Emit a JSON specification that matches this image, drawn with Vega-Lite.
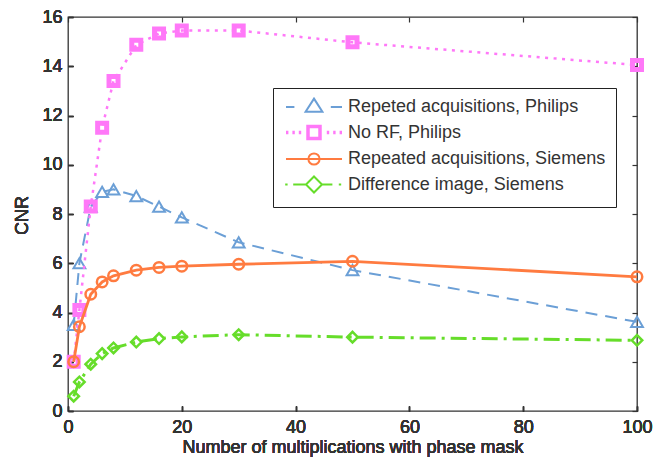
{
  "$schema": "https://vega.github.io/schema/vega-lite/v6.json",
  "width": 569,
  "height": 394,
  "autosize": {"type": "none"},
  "padding": {"left": 68, "top": 17, "right": 16, "bottom": 51},
  "background": "white",
  "config": {
    "view": {"stroke": "#333333", "strokeWidth": 1.3},
    "font": "Liberation Sans",
    "axis": {"grid": false, "domain": false, "tickColor": "#333333", "tickWidth": 1.2, "labelColor": "#333333", "titleColor": "#333333", "labelFont": "Liberation Sans", "titleFont": "Liberation Sans", "labelFontSize": 18, "titleFontSize": 18, "titleFontWeight": "normal", "labelFlush": false, "labelOverlap": false}
  },
  "data": {"values": [
    {"series": "Repeted acquisitions, Philips", "x": 1, "y": 3.5},
    {"series": "Repeted acquisitions, Philips", "x": 2, "y": 6.0},
    {"series": "Repeted acquisitions, Philips", "x": 4, "y": 8.3},
    {"series": "Repeted acquisitions, Philips", "x": 6, "y": 8.9},
    {"series": "Repeted acquisitions, Philips", "x": 8, "y": 9.0},
    {"series": "Repeted acquisitions, Philips", "x": 12, "y": 8.73},
    {"series": "Repeted acquisitions, Philips", "x": 16, "y": 8.3},
    {"series": "Repeted acquisitions, Philips", "x": 20, "y": 7.86},
    {"series": "Repeted acquisitions, Philips", "x": 30, "y": 6.85},
    {"series": "Repeted acquisitions, Philips", "x": 50, "y": 5.72},
    {"series": "Repeted acquisitions, Philips", "x": 100, "y": 3.62},
    {"series": "No RF, Philips", "x": 1, "y": 2.0},
    {"series": "No RF, Philips", "x": 2, "y": 4.1},
    {"series": "No RF, Philips", "x": 4, "y": 8.3},
    {"series": "No RF, Philips", "x": 6, "y": 11.5},
    {"series": "No RF, Philips", "x": 8, "y": 13.4},
    {"series": "No RF, Philips", "x": 12, "y": 14.87},
    {"series": "No RF, Philips", "x": 16, "y": 15.33},
    {"series": "No RF, Philips", "x": 20, "y": 15.45},
    {"series": "No RF, Philips", "x": 30, "y": 15.45},
    {"series": "No RF, Philips", "x": 50, "y": 14.97},
    {"series": "No RF, Philips", "x": 100, "y": 14.05},
    {"series": "Repeated acquisitions, Siemens", "x": 1, "y": 2.0},
    {"series": "Repeated acquisitions, Siemens", "x": 2, "y": 3.42},
    {"series": "Repeated acquisitions, Siemens", "x": 4, "y": 4.74},
    {"series": "Repeated acquisitions, Siemens", "x": 6, "y": 5.24},
    {"series": "Repeated acquisitions, Siemens", "x": 8, "y": 5.49},
    {"series": "Repeated acquisitions, Siemens", "x": 12, "y": 5.72},
    {"series": "Repeated acquisitions, Siemens", "x": 16, "y": 5.83},
    {"series": "Repeated acquisitions, Siemens", "x": 20, "y": 5.88},
    {"series": "Repeated acquisitions, Siemens", "x": 30, "y": 5.96},
    {"series": "Repeated acquisitions, Siemens", "x": 50, "y": 6.08},
    {"series": "Repeated acquisitions, Siemens", "x": 100, "y": 5.45},
    {"series": "Difference image, Siemens", "x": 1, "y": 0.6},
    {"series": "Difference image, Siemens", "x": 2, "y": 1.18},
    {"series": "Difference image, Siemens", "x": 4, "y": 1.9},
    {"series": "Difference image, Siemens", "x": 6, "y": 2.33},
    {"series": "Difference image, Siemens", "x": 8, "y": 2.56},
    {"series": "Difference image, Siemens", "x": 12, "y": 2.8},
    {"series": "Difference image, Siemens", "x": 16, "y": 2.94},
    {"series": "Difference image, Siemens", "x": 20, "y": 3.01},
    {"series": "Difference image, Siemens", "x": 30, "y": 3.1},
    {"series": "Difference image, Siemens", "x": 50, "y": 3.0},
    {"series": "Difference image, Siemens", "x": 100, "y": 2.87}
  ]},
  "encoding": {
    "x": {"field": "x", "type": "quantitative", "scale": {"domain": [0, 100], "nice": false, "zero": false},
      "axis": {"orient": "bottom", "values": [0, 20, 40, 60, 80, 100], "tickSize": -5, "labelPadding": 12, "labelFlush": false, "title": "Number of multiplications with phase mask", "titlePadding": 2, "titleFontWeight": "normal"}},
    "y": {"field": "y", "type": "quantitative", "scale": {"domain": [0, 16], "nice": false},
      "axis": {"orient": "left", "values": [0, 2, 4, 6, 8, 10, 12, 14, 16], "tickSize": -5, "labelPadding": 11, "labelFlush": false, "title": "CNR", "titleX": -46, "titleY": 198, "titleAngle": -90, "titleBaseline": "middle", "titleAlign": "center", "titleFontWeight": "normal"}},
    "color": {"field": "series", "type": "nominal",
      "scale": {"domain": ["Repeted acquisitions, Philips", "No RF, Philips", "Repeated acquisitions, Siemens", "Difference image, Siemens"], "range": ["#6b9fd6", "#ff78f8", "#ff7b40", "#66dd2a"]},
      "legend": {"orient": "none", "legendX": 205, "legendY": 71, "title": null, "direction": "vertical",
        "strokeColor": "#222222", "fillColor": "white", "padding": 10,
        "labelFont": "Liberation Sans", "labelFontSize": 18, "labelColor": "#333333", "labelLimit": 400,
        "symbolSize": 64, "symbolStrokeWidth": 2, "rowPadding": 3.5, "labelOffset": 25, "symbolOffset": 22,
        "encode": {"symbols": {"update": {
          "fill": {"value": "transparent"},
          "shape": {"signal": "datum.value === 'Repeted acquisitions, Philips' ? 'M-7,0H-4.9M4.2,0H7M0,-2.1L2.1,1.2L-2.1,1.2Z' : datum.value === 'No RF, Philips' ? 'M-7,0H-6.4M-5.4,0H-4.8M-3.8,0H-3.2M3.2,0H3.8M4.8,0H5.4M6.4,0H7M-1.5,-1.5H1.5V1.5H-1.5Z' : datum.value === 'Repeated acquisitions, Siemens' ? 'M-7,0H7M1.4,0A1.4,1.4 0 1,1 -1.4,0A1.4,1.4 0 1,1 1.4,0' : 'M-7.2,0H-6.6M-5.2,0H-2M2,0H4.6M6.2,0H6.8M0,-2L2,0L0,2L-2,0Z'"},
          "strokeWidth": {"signal": "datum.value === 'No RF, Philips' ? 3.5 : 2"}
        }}}
      }}
  },
  "layer": [
    {"transform": [{"filter": "datum.series === 'Repeted acquisitions, Philips'"}],
     "mark": {"type": "line", "strokeWidth": 2, "strokeDash": [12, 8]}},
    {"transform": [{"filter": "datum.series === 'Repeted acquisitions, Philips'"}],
     "mark": {"type": "point", "shape": "triangle-up", "filled": false, "size": 140, "strokeWidth": 2, "opacity": 1}},
    {"transform": [{"filter": "datum.series === 'No RF, Philips'"}],
     "mark": {"type": "line", "strokeWidth": 2.5, "strokeDash": [3, 5.5]}},
    {"transform": [{"filter": "datum.series === 'No RF, Philips'"}],
     "mark": {"type": "point", "shape": "square", "filled": false, "size": 81, "strokeWidth": 5, "opacity": 1}},
    {"transform": [{"filter": "datum.series === 'Repeated acquisitions, Siemens'"}],
     "mark": {"type": "line", "strokeWidth": 2.8}},
    {"transform": [{"filter": "datum.series === 'Repeated acquisitions, Siemens'"}],
     "mark": {"type": "point", "shape": "circle", "filled": false, "size": 110, "strokeWidth": 2.5, "opacity": 1}},
    {"transform": [{"filter": "datum.series === 'Difference image, Siemens'"}],
     "mark": {"type": "line", "strokeWidth": 3, "strokeDash": [16, 6, 3, 6]}},
    {"transform": [{"filter": "datum.series === 'Difference image, Siemens'"}],
     "mark": {"type": "point", "shape": "diamond", "filled": false, "size": 110, "strokeWidth": 2.5, "opacity": 1},
     "encoding": {
       "x": {"field": "x", "type": "quantitative", "scale": {"domain": [0, 100], "nice": false, "zero": false},
         "axis": {"orient": "top", "values": [0, 20, 40, 60, 80, 100], "tickSize": -5, "labels": false, "title": null}},
       "y": {"field": "y", "type": "quantitative", "scale": {"domain": [0, 16], "nice": false},
         "axis": {"orient": "right", "values": [0, 2, 4, 6, 8, 10, 12, 14, 16], "tickSize": -5, "labels": false, "title": null}}
     }}
  ],
  "resolve": {"axis": {"x": "independent", "y": "independent"}}
}
